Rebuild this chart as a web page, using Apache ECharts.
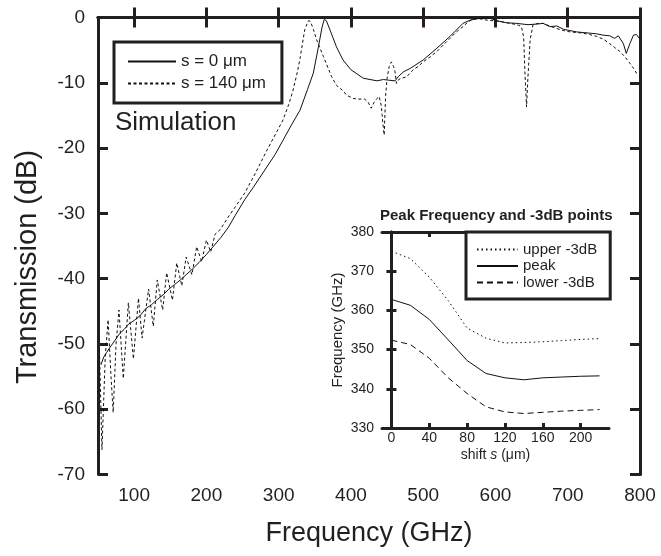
<!DOCTYPE html>
<html>
<head>
<meta charset="utf-8">
<script src="https://cdn.jsdelivr.net/npm/echarts@6/dist/echarts.min.js"></script>
<style>
html,body{margin:0;padding:0;background:#fff;}
#chart{width:661px;height:556px;}
</style>
</head>
<body>
<div id="chart"></div>
<script>
// ---- Main chart data ----
var s0Freq = [54,58,62,66,70,75,80,86,92,100,108,116,124,132,140,148,156,164,172,180,190,200,210,220,230,240,253,265,280,295,306,318,329.5,340,348,355,360,363,366,371,380,389,400,417,436,445,452,461,466,473,482,500,519,537,555,565,580,592,602,615,629,645,658,666,675,685,694,703,712,721,731,740,749,758,765,770,772,777,781,786,791,795,799];
var s0Db = [-53.2,-52.0,-51.3,-50.6,-50.0,-49.2,-48.4,-47.8,-47.0,-46.4,-45.7,-44.6,-44.0,-43.2,-42.5,-41.6,-40.9,-40.2,-39.4,-38.6,-37.5,-36.3,-35.0,-33.7,-32.2,-30.3,-27.9,-26.0,-23.5,-21.0,-18.8,-16.4,-14.2,-11.0,-8.5,-4.5,-1.5,-0.3,-0.5,-1.9,-4.5,-6.5,-8.0,-9.3,-9.7,-9.5,-9.6,-9.7,-9.0,-8.3,-7.8,-6.5,-4.7,-2.9,-0.9,-0.4,-0.1,-0.1,-0.5,-0.8,-0.9,-1.1,-1.0,-0.9,-1.4,-1.3,-1.8,-2.0,-2.2,-2.3,-2.4,-2.5,-2.7,-2.8,-3.2,-2.8,-2.7,-4.0,-5.5,-4.0,-2.7,-2.6,-3.2];

var s140Freq = [52,55.5,60,64,68,71,75,79,85,92,99,106,111,120,126.5,132,139.5,145,153,159,166,172,180,186.5,193.5,200,206,212,219,230,240,253,268,283,295,306,314,320,326,330,336,341,344,348,352.5,362,373,380,389,394,403,410,419,424,428,432,436,439,442,444,446,448,450,453,456,459,461,463,466,470,477,486,493,500,510,519,528,537,546,555,562,569,578,588,597,606,615,625,632,636,639,641,643,645,648,652,659,666,675,685,694,703,712,721,730,740,749,758,765,772,779,786,791,795,798];
var s140Db = [-51,-66.2,-52,-46.3,-55,-60.5,-50,-44.8,-55.3,-43.7,-52.3,-43.0,-49.1,-41.6,-47.3,-40.2,-44.8,-39.1,-43.3,-37.6,-41.1,-36.7,-39.4,-35.1,-37.4,-34.1,-35.9,-33.2,-32.5,-30.6,-29.0,-26.9,-23.8,-20.5,-18.0,-15.7,-13.3,-11.1,-8.3,-6.0,-1.9,-0.5,-0.6,-1.8,-3.4,-6.0,-9.0,-10.4,-11.2,-11.9,-12.4,-12.5,-12.5,-13.0,-13.9,-13.0,-12.4,-12.1,-13.5,-16,-18.0,-12,-9.3,-7.5,-6.8,-7.5,-8.3,-10.1,-9.5,-9.3,-9.1,-8.0,-7.5,-6.8,-6.0,-5.2,-4.2,-3.2,-2.2,-1.4,-0.7,-0.2,-0.2,-0.4,-0.5,-0.6,-0.8,-1.0,-1.2,-1.4,-3,-9,-13.7,-9,-3.4,-1.1,-0.9,-0.9,-1.3,-1.7,-2.0,-2.2,-2.3,-2.4,-2.6,-2.9,-3.3,-4.0,-4.6,-5.2,-6.0,-7.0,-7.8,-8.5,-8.8];

var mainXTicks = [100,200,300,400,500,600,700,800];
var mainYTicks = [0,-10,-20,-30,-40,-50,-60,-70];

// ---- Inset data ----
var shiftS = [0,20,40,60,80,100,120,140,160,180,200,220];
var upper3dB = [375.1,373.2,368.5,362.5,355.5,352.9,351.7,351.8,352.0,352.3,352.6,352.8];
var peakFreq = [362.8,361.3,357.7,352.5,347.2,343.9,342.8,342.3,342.8,343.0,343.2,343.3];
var lower3dB = [352.4,351.3,347.8,342.8,338.8,335.4,334.1,333.7,334.0,334.3,334.5,334.7];
var insetXTicks = [0,40,80,120,160,200];

function pairs(xs, ys){ return xs.map(function(x,i){ return [x, ys[i]]; }); }

var INK = '#231f20';
var FONT = '"Liberation Sans", Arial, sans-serif';

var chart = echarts.init(document.getElementById('chart'), null, {renderer:'canvas'});

var axisLineThick = {show:true, lineStyle:{color:INK, width:3}};

var option = {
  backgroundColor:'#fff',
  animation:false,
  textStyle:{fontFamily:FONT, color:INK},
  grid:[
    {left:98, top:17.5, width:542, height:457},
    {left:382, top:232, width:227, height:196}
  ],
  xAxis:[
    {gridIndex:0, type:'value', min:50, max:800, position:'bottom',
     axisLine:axisLineThick,
     axisTick:{show:true, inside:true, length:10, lineStyle:{color:INK, width:3}, customValues:mainXTicks},
     axisLabel:{show:true, margin:12, fontSize:19, color:INK, fontFamily:FONT, customValues:mainXTicks},
     splitLine:{show:false},
     name:'Frequency (GHz)', nameLocation:'middle', nameGap:46,
     nameTextStyle:{fontSize:27, color:INK, fontFamily:FONT}},
    {gridIndex:0, type:'value', min:50, max:800, position:'top',
     axisLine:axisLineThick,
     axisTick:{show:true, inside:true, length:10, lineStyle:{color:INK, width:3}, customValues:mainXTicks},
     axisLabel:{show:false}, splitLine:{show:false}},
    {gridIndex:1, type:'value', min:-10, max:230, position:'bottom',
     axisLine:axisLineThick,
     axisTick:{show:true, inside:true, length:5, lineStyle:{color:INK, width:3}, customValues:insetXTicks},
     axisLabel:{show:true, margin:3, fontSize:14, color:INK, fontFamily:FONT, customValues:insetXTicks},
     splitLine:{show:false},
     name:'{a|shift }{b|s}{a| (μm)}', nameLocation:'middle', nameGap:20,
     nameTextStyle:{rich:{a:{fontSize:14, color:INK, fontFamily:FONT}, b:{fontSize:14, color:INK, fontFamily:FONT, fontStyle:'italic'}}}},
    {gridIndex:1, type:'value', min:-10, max:230, position:'top',
     axisLine:axisLineThick,
     axisTick:{show:true, inside:true, length:5, lineStyle:{color:INK, width:3}, customValues:insetXTicks},
     axisLabel:{show:false}, splitLine:{show:false}}
  ],
  yAxis:[
    {gridIndex:0, type:'value', min:-70, max:0, interval:10, position:'left',
     axisLine:axisLineThick,
     axisTick:{show:true, inside:true, length:10, lineStyle:{color:INK, width:3}},
     axisLabel:{show:true, margin:13, fontSize:19, color:INK, fontFamily:FONT},
     splitLine:{show:false}},
    {gridIndex:0, type:'value', min:-70, max:0, interval:10, position:'right',
     axisLine:axisLineThick,
     axisTick:{show:true, inside:true, length:10, lineStyle:{color:INK, width:3}},
     axisLabel:{show:false}, splitLine:{show:false}},
    {gridIndex:1, type:'value', min:330, max:380, interval:10, position:'left',
     axisLine:axisLineThick,
     axisTick:{show:true, inside:true, length:5, lineStyle:{color:INK, width:3}},
     axisLabel:{show:true, margin:8, fontSize:14, color:INK, fontFamily:FONT},
     splitLine:{show:false},
     name:'Frequency (GHz)', nameLocation:'middle', nameGap:37,
     nameTextStyle:{fontSize:15, color:INK, fontFamily:FONT}},
    {gridIndex:1, type:'value', min:330, max:380, interval:10, position:'right',
     axisLine:axisLineThick,
     axisTick:{show:true, inside:true, length:5, lineStyle:{color:INK, width:3}},
     axisLabel:{show:false}, splitLine:{show:false}}
  ],
  legend:[
    {data:['s = 0 μm','s = 140 μm'], orient:'vertical', left:114, top:42,
     padding:[11,16,11,13], itemWidth:48, itemHeight:14, itemGap:5,
     borderColor:INK, borderWidth:3, backgroundColor:'#fff',
     itemStyle:{opacity:0, borderWidth:0},
     textStyle:{fontSize:17, color:INK, fontFamily:FONT},
     selectedMode:false},
    {data:['upper -3dB','peak','lower -3dB'], orient:'vertical', left:466, top:232,
     padding:[10,13,9,10], itemWidth:41, itemHeight:12, itemGap:1.5,
     borderColor:INK, borderWidth:3, backgroundColor:'#fff',
     itemStyle:{opacity:0, borderWidth:0},
     textStyle:{fontSize:15, color:INK, fontFamily:FONT},
     selectedMode:false}
  ],
  graphic:[
    {type:'text', left:115, top:110, style:{text:'Simulation', fontSize:26, fill:INK, fontFamily:FONT}},
    {type:'text', x:28, y:267, rotation:Math.PI/2,
     style:{text:'Transmission (dB)', fontSize:29, fill:INK, fontFamily:FONT, align:'center', verticalAlign:'middle'}},
    {type:'text', left:380, top:208, style:{text:'Peak Frequency and -3dB points', fontSize:15, fontWeight:'bold', fill:INK, fontFamily:FONT}}
  ],
  series:[
    {name:'s = 0 μm', type:'line', xAxisIndex:0, yAxisIndex:0, data:pairs(s0Freq, s0Db),
     symbol:'none', smooth:false, lineStyle:{color:'#111', width:1, type:'solid'}, itemStyle:{color:'#111'}},
    {name:'s = 140 μm', type:'line', xAxisIndex:0, yAxisIndex:0, data:pairs(s140Freq, s140Db),
     symbol:'none', smooth:false, lineStyle:{color:'#111', width:1, type:[3,2.5]}, itemStyle:{color:'#111'}},
    {name:'upper -3dB', type:'line', xAxisIndex:2, yAxisIndex:2, data:pairs(shiftS, upper3dB),
     symbol:'none', lineStyle:{color:'#111', width:1, type:[1.5,3]}, itemStyle:{color:'#111'}},
    {name:'peak', type:'line', xAxisIndex:2, yAxisIndex:2, data:pairs(shiftS, peakFreq),
     symbol:'none', lineStyle:{color:'#111', width:1, type:'solid'}, itemStyle:{color:'#111'}},
    {name:'lower -3dB', type:'line', xAxisIndex:2, yAxisIndex:2, data:pairs(shiftS, lower3dB),
     symbol:'none', lineStyle:{color:'#111', width:1, type:[6,4]}, itemStyle:{color:'#111'}}
  ]
};
chart.setOption(option);
</script>
</body>
</html>
